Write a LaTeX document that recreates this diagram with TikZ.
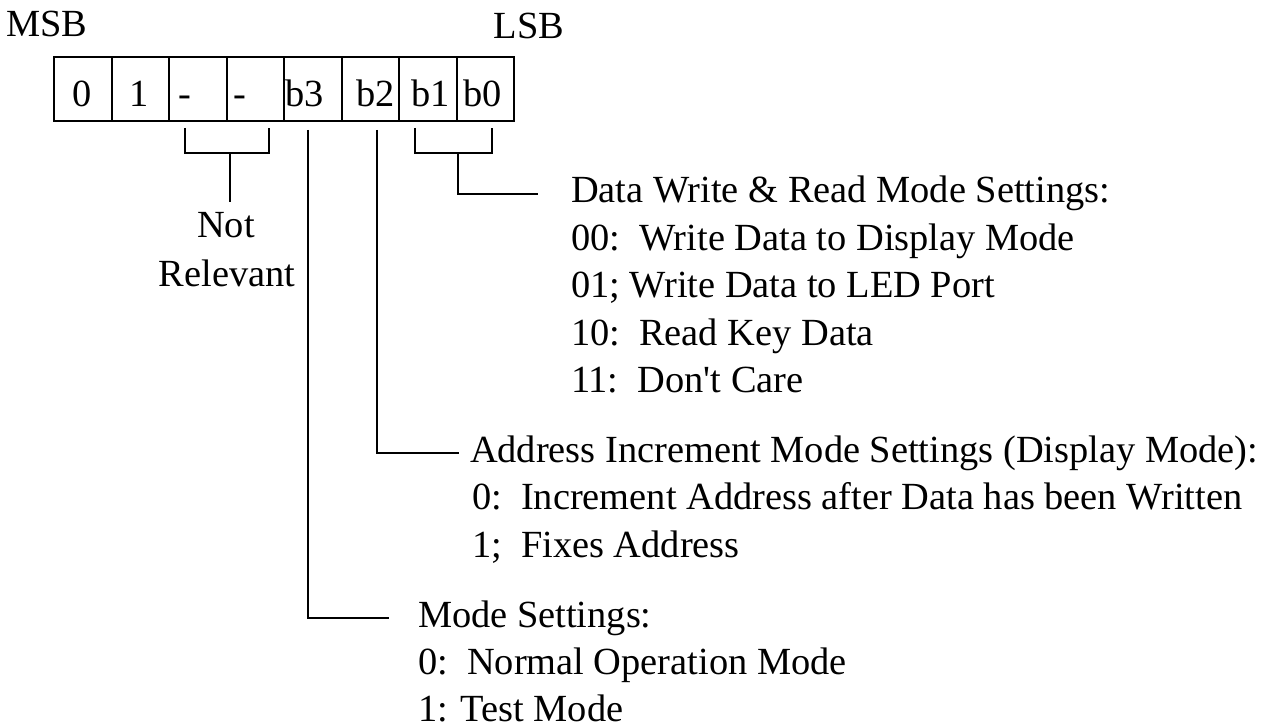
\documentclass[tikz,border=0pt]{standalone}
\usepackage{fontspec}
\setmainfont{Liberation Serif}
\tikzset{
  regcell/.style={draw,minimum width=28.75pt,minimum height=32pt,inner sep=0pt,anchor=north west},
  txt/.style={anchor=base west,inner sep=0pt}
}
\begin{document}
\begin{tikzpicture}[x=0.5pt,y=-0.5pt,line width=1pt,
    every node/.append style={font=\fontsize{19.2}{23.75}\selectfont}]
  \useasboundingbox (0,0) rectangle (1269,727);
  % register, bit 7 on the left
  \foreach \lbl/\dx [count=\i from 0] in {0/0,1/0,-/-12,-/-14,b3/-7,b2/6,b1/4,b0/-2}{
    \pgfmathtruncatemacro\bit{7-\i}
    \node[regcell] (c\bit) at ({53+\i*57.5},56) {};
    \node[anchor=base,inner sep=0pt] (l\bit) at ({53+\i*57.5+28.75+\dx},107) {\lbl};
  }
  \node[anchor=base,inner sep=0pt] (msb) at (47,37) {MSB};
  \node[anchor=base,inner sep=0pt] (lsb) at (529,39) {LSB};
  % not relevant bits
  \coordinate (nrL) at (185,128);
  \coordinate (nrR) at (269,128);
  \coordinate (nrM) at (230,153);
  \node[anchor=base,inner sep=0pt] (nr1) at (226,238) {Not};
  \node[anchor=base,inner sep=0pt] (nr2) at (227,286) {Relevant};
  \path (nr1.north) ++(0,-10) coordinate (nrTip);
  \draw (nrL) -- ++(0,25) -| (nrR);
  \draw (nrM) -- (nrM |- nrTip);
  % text blocks
  \node[txt] (dataHd) at (570,203) {Data Write \& Read Mode Settings:};
  \foreach \t [count=\i] in {{00:\ \ Write Data to Display Mode},{01; Write Data to LED Port},
      {10:\ \ Read Key Data},{11:\ \ Don\textquotesingle t Care}}
    \node[txt] (data\i) at (570,{203+\i*47.5}) {\t};
  \node[txt] (addrHd) at (469,462) {Address Increment Mode Settings (Display Mode):};
  \foreach \t [count=\i] in {{0:\ \ Increment Address after Data has been Written},{1;\ \ Fixes Address}}
    \node[txt] (addr\i) at (471,{462+\i*47.5}) {\t};
  \node[txt] (modeHd) at (417,627) {Mode Settings:};
  \foreach \t [count=\i] in {{0:\ \ Normal Operation Mode},{1: Test Mode}}
    \node[txt] (mode\i) at (417,{627+\i*47}) {\t};
  % b1 b0
  \coordinate (dbL) at (415,128);
  \coordinate (dbR) at (492,128);
  \coordinate (dbM) at (458,153);
  \draw (dbL) -- ++(0,25) -| (dbR);
  \draw (dbM) |- ([xshift=-16pt]dataHd.west);
  % b2 and b3
  \coordinate (b2top) at (377,130);
  \coordinate (b3top) at (308,130);
  \draw (b2top) |- ([xshift=-5pt]addrHd.west);
  \draw (b3top) |- ([xshift=-14pt]modeHd.west);
\end{tikzpicture}
\end{document}
